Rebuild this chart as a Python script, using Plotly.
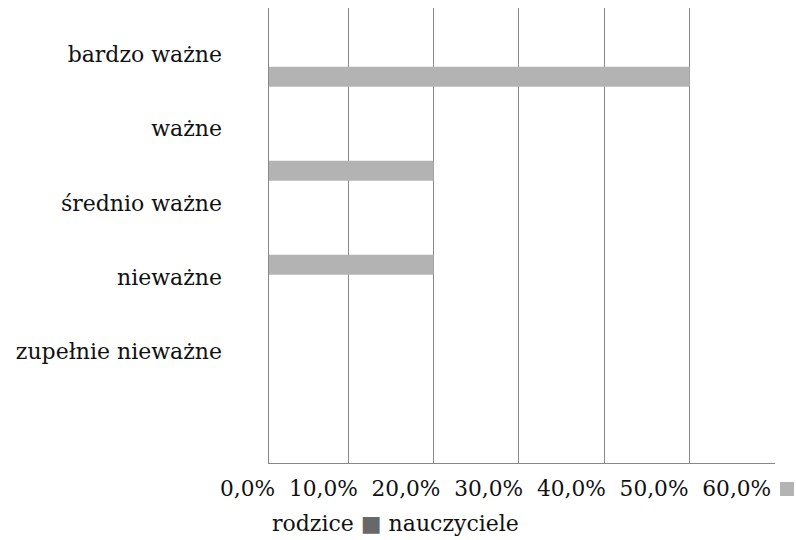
import plotly.graph_objects as go

# Survey answers (share of respondents, %)
categories = ["bardzo ważne", "ważne", "średnio ważne", "nieważne", "zupełnie nieważne"]
rodzice = [50, 20, 20, 0, 0]
nauczyciele = [0, 0, 0, 0, 0]
series_names = ["rodzice", "nauczyciele"]
series_colors = ["#b3b3b3", "#686868"]
pct_ticks = [0, 10, 20, 30, 40, 50, 60]

W, H = 796, 540
L, R, T, B = 269, 21, 8, 77
PW, PH = W - L - R, H - T - B
FONT = "DejaVu Serif"
FS = 22
TXT = "#111111"


def px_x(px):
    return (px - L) / PW


def px_y(py):
    return (H - B - py) / PH


def pct_label(v):
    return f"{v:.1f}".replace(".", ",") + "%"


fig = go.Figure()

bar_w = 0.213
fig.add_trace(go.Bar(
    y=categories, x=rodzice, orientation="h", name=series_names[0],
    marker=dict(color=series_colors[0], line=dict(width=0)),
    width=bar_w, offset=-bar_w / 2, showlegend=False, hoverinfo="x+y",
))
fig.add_trace(go.Bar(
    y=categories, x=nauczyciele, orientation="h", name=series_names[1],
    marker=dict(color=series_colors[1], line=dict(width=0)),
    width=bar_w, offset=-bar_w * 1.5, showlegend=False, hoverinfo="x+y",
))
# carrier trace for the category labels axis
fig.add_trace(go.Scatter(
    y=categories, x=[None] * len(categories), yaxis="y2", mode="markers",
    marker=dict(opacity=0), showlegend=False, hoverinfo="skip",
))

fig.update_layout(
    width=W, height=H,
    margin=dict(l=L, r=R, t=T, b=B, pad=0),
    paper_bgcolor="white", plot_bgcolor="white",
    barmode="overlay",
    font=dict(family=FONT, size=FS, color=TXT),
    xaxis=dict(
        range=[0.71, 60], tick0=0, dtick=10, showticklabels=False,
        showgrid=True, gridcolor="#888888", gridwidth=1, zeroline=False,
        showline=True, linecolor="#888888", linewidth=1, ticks="",
        fixedrange=True,
    ),
    yaxis=dict(
        type="category", categoryorder="array", categoryarray=categories,
        range=[4.109, -0.731], showticklabels=False, showgrid=False,
        showline=True, linecolor="#888888", linewidth=1, ticks="",
        zeroline=False, fixedrange=True,
    ),
    yaxis2=dict(
        type="category", categoryorder="array", categoryarray=categories,
        overlaying="y", side="left", range=[5.5044, -0.6236],
        showgrid=False, showline=False, ticks="", zeroline=False,
        ticklabelstandoff=46, tickfont=dict(family=FONT, size=FS, color=TXT),
        fixedrange=True,
    ),
    showlegend=False,
)

# value scale and legend flow as one wrapped text run under the plot
gap = "\u00a0\u00a0"
tick_run = gap.join(pct_label(v) for v in pct_ticks)
row2 = (series_names[0] + "\u00a0"
        + f"<span style='color:{series_colors[1]}'>■</span>\u00a0"
        + series_names[1])

fig.add_annotation(
    text=tick_run, xref="paper", yref="paper", x=px_x(218), y=px_y(488),
    xanchor="left", yanchor="middle", showarrow=False,
    font=dict(family=FONT, size=21.7, color=TXT),
)
# swatch of the first series, closing the first line
fig.add_shape(
    type="rect", xref="paper", yref="paper",
    x0=px_x(780), x1=px_x(794), y0=px_y(496), y1=px_y(482),
    fillcolor=series_colors[0], line=dict(width=0), layer="above",
)
fig.add_annotation(
    text=row2, xref="paper", yref="paper", x=px_x(270), y=px_y(523),
    xanchor="left", yanchor="middle", showarrow=False,
    font=dict(family=FONT, size=FS, color=TXT),
)

fig.write_html("out.html")
